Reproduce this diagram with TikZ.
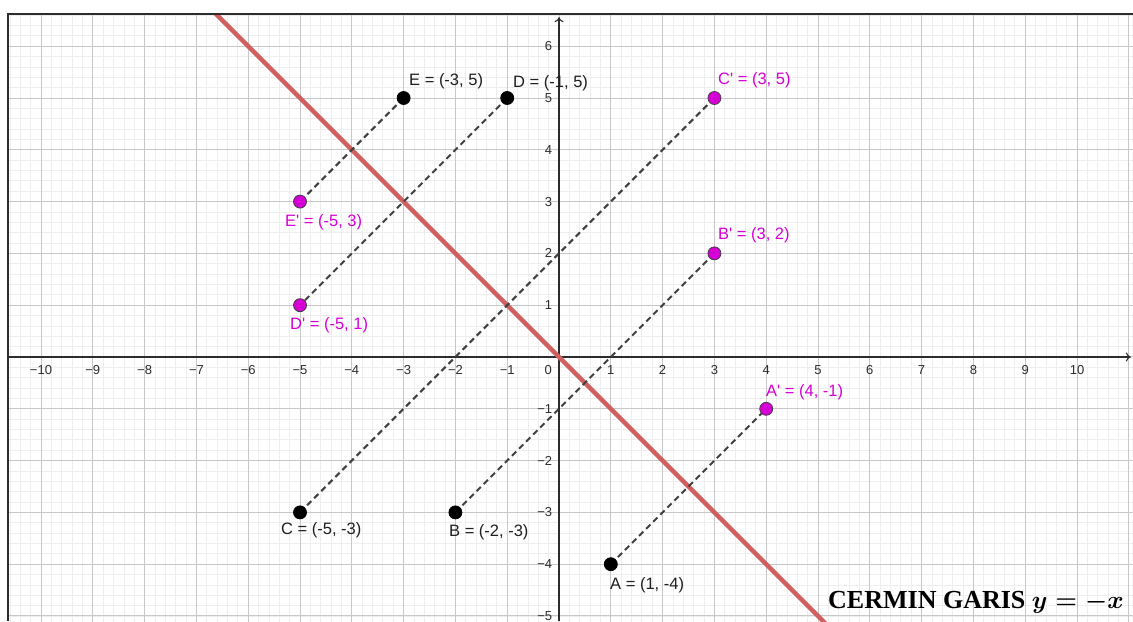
\documentclass[tikz,border=0pt]{standalone}
\usepackage{fontspec}
\usepackage{amsmath}
\setmainfont{Liberation Sans}
\newfontfamily\capfont{Liberation Serif}
\usetikzlibrary{arrows.meta}
\definecolor{gridmaj}{RGB}{200,200,200}
\definecolor{gridmin}{RGB}{238,238,238}
\definecolor{axisc}{RGB}{45,45,45}
\definecolor{redline}{RGB}{208,95,95}
\definecolor{mag}{RGB}{214,0,214}
\definecolor{dashc}{RGB}{64,64,64}
\begin{document}
\begin{tikzpicture}[x=51.8pt,y=51.8pt,
  minorgrid/.style={gridmin,line width=0.8pt,step=0.2},
  majorgrid/.style={gridmaj,line width=1pt,step=1},
  axisline/.style={axisc,line width=1.1pt,-{To[length=5pt,width=9pt]}},
  ticklbl/.style={font=\fontsize{13}{15}\selectfont,text=axisc,inner sep=0pt},
  mirror/.style={dashc,line width=2pt,dash pattern=on 6pt off 4pt},
  ptblack/.style={circle,fill=black,draw=black,line width=0.8pt,minimum size=13pt,inner sep=0pt},
  ptmag/.style={circle,fill=mag,draw=black!75,line width=0.8pt,minimum size=13pt,inner sep=0pt},
  lblblack/.style={font=\fontsize{16.5}{19}\selectfont,text=black!88,anchor=west,inner sep=0pt},
  lblmag/.style={lblblack,text=mag},
  mirrorline/.style={redline,line width=4.5pt},
]
\useasboundingbox (-10.792,-5.097) rectangle (11.081,6.892);
\fill[white] (-10.792,-5.097) rectangle (11.081,6.892);
% coordinates of points
\coordinate (A) at (1,-4);
\coordinate (B) at (-2,-3);
\coordinate (C) at (-5,-3);
\coordinate (D) at (-1,5);
\coordinate (E) at (-3,5);
\coordinate (Ap) at (4,-1);
\coordinate (Bp) at (3,2);
\coordinate (Cp) at (3,5);
\coordinate (Dp) at (-5,1);
\coordinate (Ep) at (-5,3);
\coordinate (L1) at (-7,7);
\coordinate (L2) at (5.5,-5.5);
\coordinate (xs) at (-10.637,0);
\coordinate (xe) at (11.04,0);
\coordinate (ys) at (0,-5.097);
\coordinate (ye) at (0,6.56);
\begin{scope}
\clip (-10.637,-5.097) rectangle (11.081,6.622);
\draw[minorgrid] (-10.8,-5.2) grid (11.2,6.8);
\draw[majorgrid] (-10.8,-5.2) grid (11.2,6.8);
\draw[axisline] (xs) -- (xe);
\draw[axisline] (ys) -- (ye);
\draw[mirrorline] (L1) -- (L2);
\end{scope}
% frame
\draw[axisc,line width=1.3pt] (-10.637,-5.097) -- (-10.637,6.622) -- (11.081,6.622);
% tick labels
\foreach \i in {1,...,10}{
  \node[ticklbl] (xp\i) at (\i,-0.25) {\i};
  \node[ticklbl] (xn\i) at (-\i,-0.25) {−\i};
}
\foreach \i in {1,...,6}{
  \node[ticklbl,anchor=east] (yp\i) at (-0.13,\i) {\i};
}
\foreach \i in {1,...,5}{
  \node[ticklbl,anchor=east] (yn\i) at (-0.13,-\i) {−\i};
}
\node[ticklbl] (zero) at (-0.21,-0.25) {0};
% mirror connectors
\draw[mirror] (A) -- (Ap);
\draw[mirror] (B) -- (Bp);
\draw[mirror] (C) -- (Cp);
\draw[mirror] (D) -- (Dp);
\draw[mirror] (E) -- (Ep);
% points
\node[ptblack] (Adot) at (A) {};
\node[ptblack] (Bdot) at (B) {};
\node[ptblack] (Cdot) at (C) {};
\node[ptblack] (Ddot) at (D) {};
\node[ptblack] (Edot) at (E) {};
\node[ptmag] (Apdot) at (Ap) {};
\node[ptmag] (Bpdot) at (Bp) {};
\node[ptmag] (Cpdot) at (Cp) {};
\node[ptmag] (Dpdot) at (Dp) {};
\node[ptmag] (Epdot) at (Ep) {};
% labels
\node[lblblack] (El) at (-2.896,5.328) {E = (-3, 5)};
\node[lblblack] (Dl) at (-0.888,5.290) {D = (-1, 5)};
\node[lblblack] (Cl) at (-5.367,-3.340) {C = (-5, -3)};
\node[lblblack] (Bl) at (-2.124,-3.378) {B = (-2, -3)};
\node[lblblack] (Al) at (0.985,-4.402) {A = (1, -4)};
\node[lblmag] (Cpl) at (3.069,5.347) {C\textquotesingle{} = (3, 5)};
\node[lblmag] (Bpl) at (3.069,2.355) {B\textquotesingle{} = (3, 2)};
\node[lblmag] (Apl) at (3.996,-0.676) {A\textquotesingle{} = (4, -1)};
\node[lblmag] (Epl) at (-5.290,2.606) {E\textquotesingle{} = (-5, 3)};
\node[lblmag] (Dpl) at (-5.193,0.618) {D\textquotesingle{} = (-5, 1)};
% caption
\node[anchor=base west,inner sep=0pt,font=\capfont\bfseries\fontsize{26}{30}\selectfont] (cap) at (5.193,-4.846) {CERMIN GARIS {\boldmath$y=-x$}};
\end{tikzpicture}
\end{document}
